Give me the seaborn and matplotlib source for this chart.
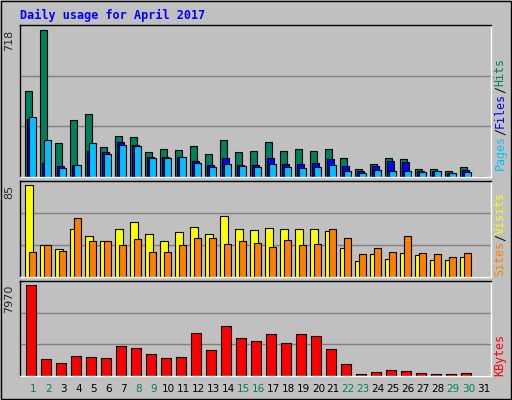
import numpy as np
import pandas as pd
import matplotlib
matplotlib.use("Agg")
import matplotlib.pyplot as plt
import seaborn as sns

days = list(range(1, 32))
hits = [421,718,167,276,309,148,201,197,123,138,133,153,114,182,123,128,172,128,138,128,138,94,41,65,94,89,41,41,31,50,0]
files = [284,70,55,60,128,123,172,158,99,99,99,80,60,94,60,60,94,65,65,70,89,55,31,55,80,75,31,31,21,36,0]
pages = [294,182,45,60,167,114,158,153,94,94,99,70,50,65,55,50,65,50,45,50,60,31,21,36,31,31,26,31,21,26,0]
visits = [85,29,26,44,38,33,44,51,40,33,41,46,40,56,44,43,45,44,44,44,42,27,15,21,17,22,20,16,16,18,0]
sites = [23,29,24,54,33,33,29,35,23,23,29,36,36,30,33,31,28,34,29,30,44,36,21,27,23,38,22,21,18,22,0]
kbytes = [7970,1512,1163,1774,1687,1600,2647,2472,1949,1600,1687,3781,2298,4392,3345,3083,3694,2909,3694,3520,2385,1076,175,378,553,465,291,204,204,291,0]
weekend = [1,2,8,9,15,16,22,23,29,30]

sns.set_style("white")
plt.rcParams['font.family'] = ['DejaVu Sans Mono', 'DejaVu Sans']
BG = "#c0c0c0"
fig = plt.figure(figsize=(5.12, 4.0), dpi=100, facecolor=BG)
W, H = 512, 400

def mkax(top, bot):
    ax = fig.add_axes([20/W, 1-bot/H, 471/W, (bot-top)/H])
    ax.set_facecolor(BG)
    for s in ax.spines.values():
        s.set_color("black"); s.set_linewidth(1)
    ax.spines['bottom'].set_color("white"); ax.spines['right'].set_color("white")
    ax.set_xlim(0.5, 31.9)
    return ax

def bars(ax, vals, off, width, color):
    df = pd.DataFrame({"x": np.array(days) + off, "v": vals})
    sns.barplot(data=df, x="x", y="v", native_scale=True, width=width, color=color,
                edgecolor="black", linewidth=0.8, saturation=1, ax=ax)

def finish(ax, vmax, frac, label):
    top = vmax / frac
    ax.set_ylim(0, top)
    for g in (top/3, 2*top/3):
        ax.axhline(g, color="#808080", lw=1, zorder=0)
    ax.set_xticks([]); ax.set_yticks([])
    ax.set_xlabel(""); ax.set_ylabel("")
    ax.text(-0.012, frac, label, transform=ax.transAxes, rotation=90,
            ha="right", va="top", fontsize=8, family="DejaVu Sans")

ax1 = mkax(25, 177)
bars(ax1, hits, 0.083, 7/15, "#00805c")
bars(ax1, files, 0.217, 7/15, "#0000ff")
bars(ax1, pages, 0.35, 7/15, "#00c0ff")
finish(ax1, 718, 442/456, "718")

ax2 = mkax(181, 277)
bars(ax2, visits, 0.117, 8/15, "#ffff00")
bars(ax2, sites, 0.353, 7/15, "#ff8000")
finish(ax2, 85, 277/288, "85")

ax3 = mkax(281, 376)
bars(ax3, kbytes, 0.25, 10/15, "#ff0000")
finish(ax3, 7970, 274/285, "7970")

for d in days:
    fig.text((20 + (d + 0.39 - 0.5) * 15) / W, 1 - 389/H, str(d), ha="center", va="center",
             fontsize=7.5, family="DejaVu Sans",
             color="#00805c" if d in weekend else "black")

fig.text(20/W, 1-15/H, "Daily usage for April 2017", color="#0000ff", fontsize=8.5,
         fontweight="bold", ha="left", va="center")

CH = 7.0
def vlabel(parts, x, ybot):
    y = ybot
    for txt, col in parts:
        fig.text(x/W, 1-y/H, txt, rotation=90, color=col, fontsize=8.4,
                 ha="center", va="bottom", family="DejaVu Sans Mono")
        y -= len(txt) * CH

vlabel([("Pages", "#00c0ff"), ("/", "black"), ("Files", "#0000ff"), ("/", "black"), ("Hits", "#00805c")], 500, 170)
vlabel([("Sites", "#ff8000"), ("/", "black"), ("Visits", "#ffff00")], 500, 276)
vlabel([("KBytes", "#ff0000")], 500, 376)

fig.patches.append(plt.Rectangle((1/W, 1/H), 1-2/W, 1-2/H, transform=fig.transFigure,
                                 fill=False, edgecolor="black", lw=1))
fig.savefig("out.png", dpi=100, facecolor=BG)
